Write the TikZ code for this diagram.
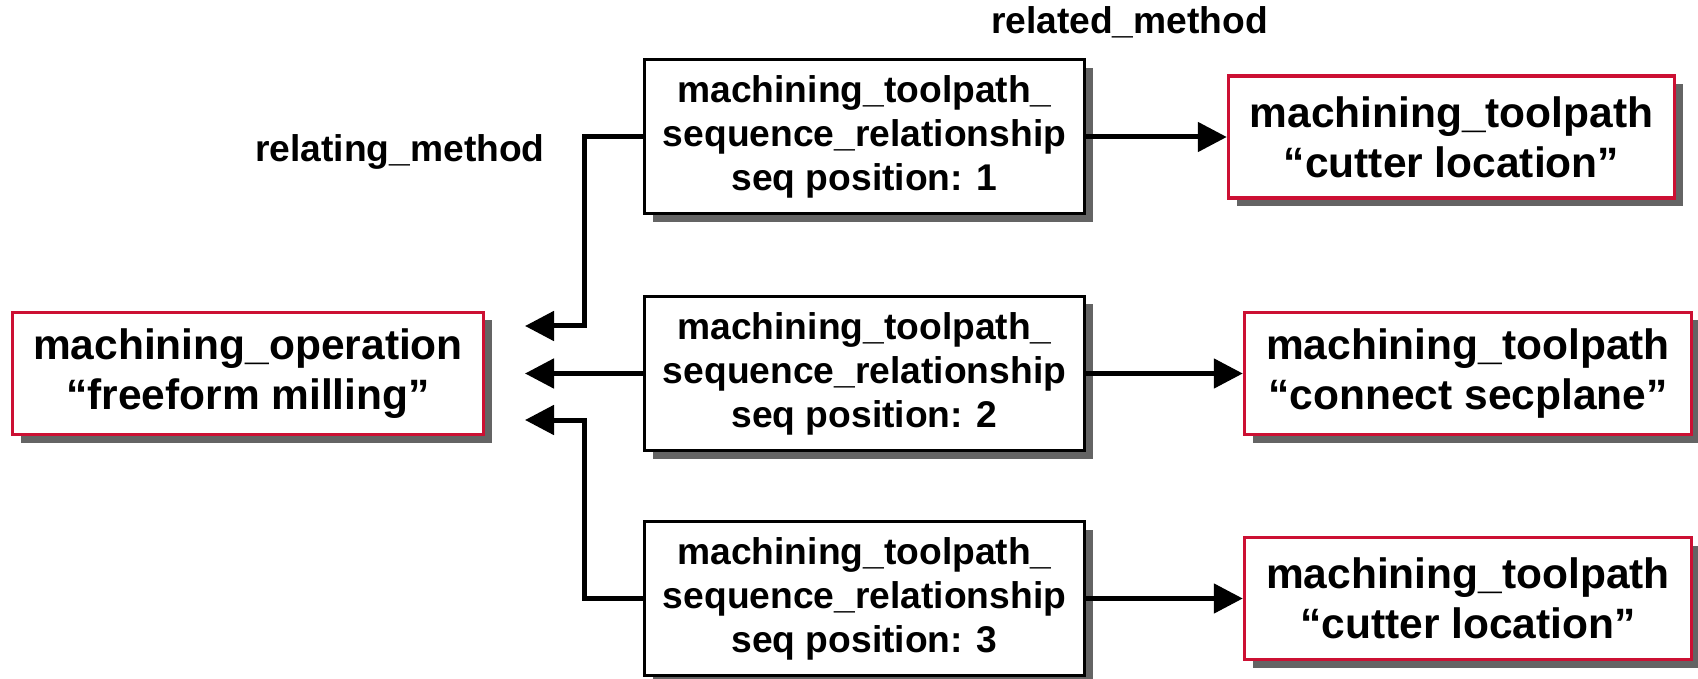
\documentclass[tikz,border=0pt]{standalone}
\usepackage{fontspec}
\setmainfont{Liberation Sans}
\usetikzlibrary{arrows.meta,shadows}
\definecolor{boxred}{RGB}{204,16,51}
\definecolor{shadowgray}{RGB}{100,100,100}

\begin{document}
\begin{tikzpicture}[x=0.5pt,y=-0.5pt,
  shadowed/.style={drop shadow={shadow xshift=4pt,shadow yshift=-4pt,fill=shadowgray,opacity=1}},
  seqbox/.style={draw=black,line width=1.5pt,fill=white,shadowed,minimum width=220pt,minimum height=77pt,align=center,inner sep=0pt,font=\fontsize{18.6}{22}\selectfont\bfseries},
  bigbox/.style={draw=boxred,line width=1.7pt,fill=white,shadowed,minimum width=223.5pt,minimum height=61pt,align=center,inner sep=0pt,font=\fontsize{21.25}{25}\selectfont\bfseries},
  conn/.style={line width=2.5pt,-{Triangle[length=14.5pt,width=14.5pt]}},
  lbl/.style={font=\fontsize{18.6}{22}\selectfont\bfseries}]
\useasboundingbox (0,0) rectangle (1698,679);

\node[bigbox,minimum width=235.5pt] (op) at (248,373.5) {machining\_operation\\“freeform milling”};

\node[seqbox] (seq1) at (864.5,137) {machining\_toolpath\_\\sequence\_relationship\\seq position: 1};
\node[seqbox] (seq2) at (864.5,373.5) {machining\_toolpath\_\\sequence\_relationship\\seq position: 2};
\node[seqbox] (seq3) at (864.5,598.5) {machining\_toolpath\_\\sequence\_relationship\\seq position: 3};

\node[bigbox,minimum width=223pt] (path1) at (1451.5,137) {machining\_toolpath\\“cutter location”};
\node[bigbox] (path2) at (1468,373.5) {machining\_toolpath\\“connect secplane”};
\node[bigbox] (path3) at (1468,598.5) {machining\_toolpath\\“cutter location”};

\node[lbl] (relating) at (400,152) {relating\_method};
\node[lbl] (related) at (1129.5,22) {related\_method};

% relating side
\coordinate (tip1) at (525,326);
\coordinate (tip2) at (525,373.5);
\coordinate (tip3) at (525,420);
\coordinate (bend1) at (584.5,326);
\coordinate (bend3) at (584.5,420);
\draw[conn] (seq1.west) -| (bend1) -- (tip1);
\draw[conn] (seq2.west) -- (tip2);
\draw[conn] (seq3.west) -| (bend3) -- (tip3);

% related side
\draw[conn] (seq1.east) -- (path1.west);
\draw[conn] (seq2.east) -- (path2.west);
\draw[conn] (seq3.east) -- (path3.west);
\end{tikzpicture}
\end{document}
